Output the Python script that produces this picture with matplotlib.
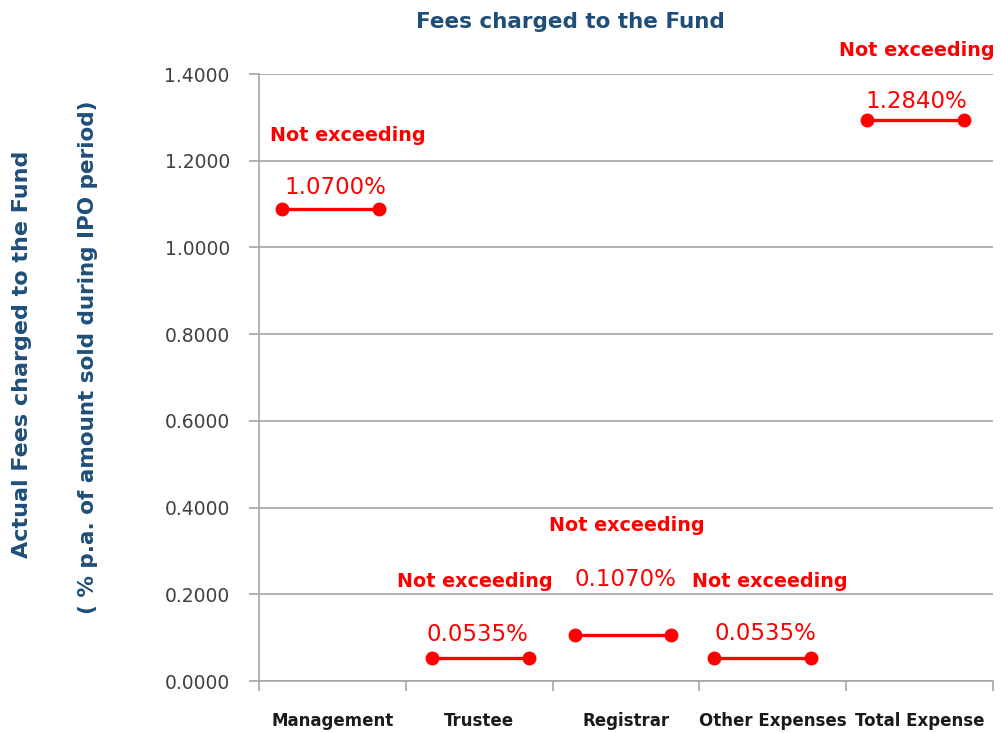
import matplotlib.pyplot as plt
import numpy as np

categories = ['Management', 'Trustee', 'Registrar', 'Other Expenses', 'Total Expense']
# y position of each segment
seg_values = [1.088, 0.053, 0.106, 0.053, 1.294]
value_labels = ['1.0700%', '0.0535%', '0.1070%', '0.0535%', '1.2840%']
yticks = [0.0, 0.2, 0.4, 0.6, 0.8, 1.0, 1.2, 1.4]

# label offsets (points) relative to the segment centre
val_off = [16, 17, 40, 18, 13]
ne_off = [53, 55, 79, 55, 50]
ne_dx = [12, -4, 3, 5, 1]
val_dx = [3, -2, 2, 2, 1]
seg_center = [0.49, 1.51, 2.48, 3.43, 4.47]
half_w = 0.33

blue = '#1F4E79'
red = '#FF0000'

fig = plt.figure(figsize=(10.01, 7.33), dpi=100)
ax = fig.add_axes([0.2587, 0.0709, 0.7333, 0.8281])

for i, v in enumerate(seg_values):
    c = seg_center[i]
    ax.plot([c - half_w, c + half_w], [v, v], color=red, lw=2.4,
            marker='o', markersize=9, solid_capstyle='butt', zorder=3)
    ax.annotate(value_labels[i], (c, v), xytext=(val_dx[i], val_off[i]),
                textcoords='offset points', ha='center', va='center',
                color=red, fontsize=16.5)
    ax.annotate('Not exceeding', (c, v), xytext=(ne_dx[i], ne_off[i]),
                textcoords='offset points', ha='center', va='center',
                color=red, fontsize=13.8, fontweight='bold')

ax.set_xlim(0, 5)
ax.set_ylim(0, 1.4)
ax.set_yticks(yticks)
ax.set_yticklabels(['%.4f' % t for t in yticks], color='#404040', fontsize=13.5)
ax.yaxis.grid(True, color='#a6a6a6', lw=1.2)
ax.set_axisbelow(True)

ax.set_xticks(np.arange(0, 6))
ax.set_xticklabels([])
ax.set_xticks(np.arange(5) + 0.5, minor=True)
ax.set_xticklabels(categories, minor=True, fontsize=12, fontweight='bold', color='#1a1a1a')
ax.tick_params(axis='x', which='minor', length=0, pad=22)
ax.tick_params(axis='x', which='major', length=7, color='#a6a6a6', width=1.2)
ax.tick_params(axis='y', length=7, color='#a6a6a6', width=1.2, pad=14)

for s in ['top', 'right']:
    ax.spines[s].set_visible(False)
for s in ['left', 'bottom']:
    ax.spines[s].set_color('#a6a6a6')
    ax.spines[s].set_linewidth(1.2)

fig.text(0.570, 0.97, 'Fees charged to the Fund', ha='center', va='center',
         fontsize=15.5, fontweight='bold', color=blue)
fig.text(0.022, 0.516, 'Actual Fees charged to the Fund', rotation=90,
         ha='center', va='center', fontsize=16, fontweight='bold', color=blue)
fig.text(0.088, 0.513, '( % p.a. of amount sold during IPO period)', rotation=90,
         ha='center', va='center', fontsize=15.5, fontweight='bold', color=blue)

fig.savefig('out.png', dpi=100)
